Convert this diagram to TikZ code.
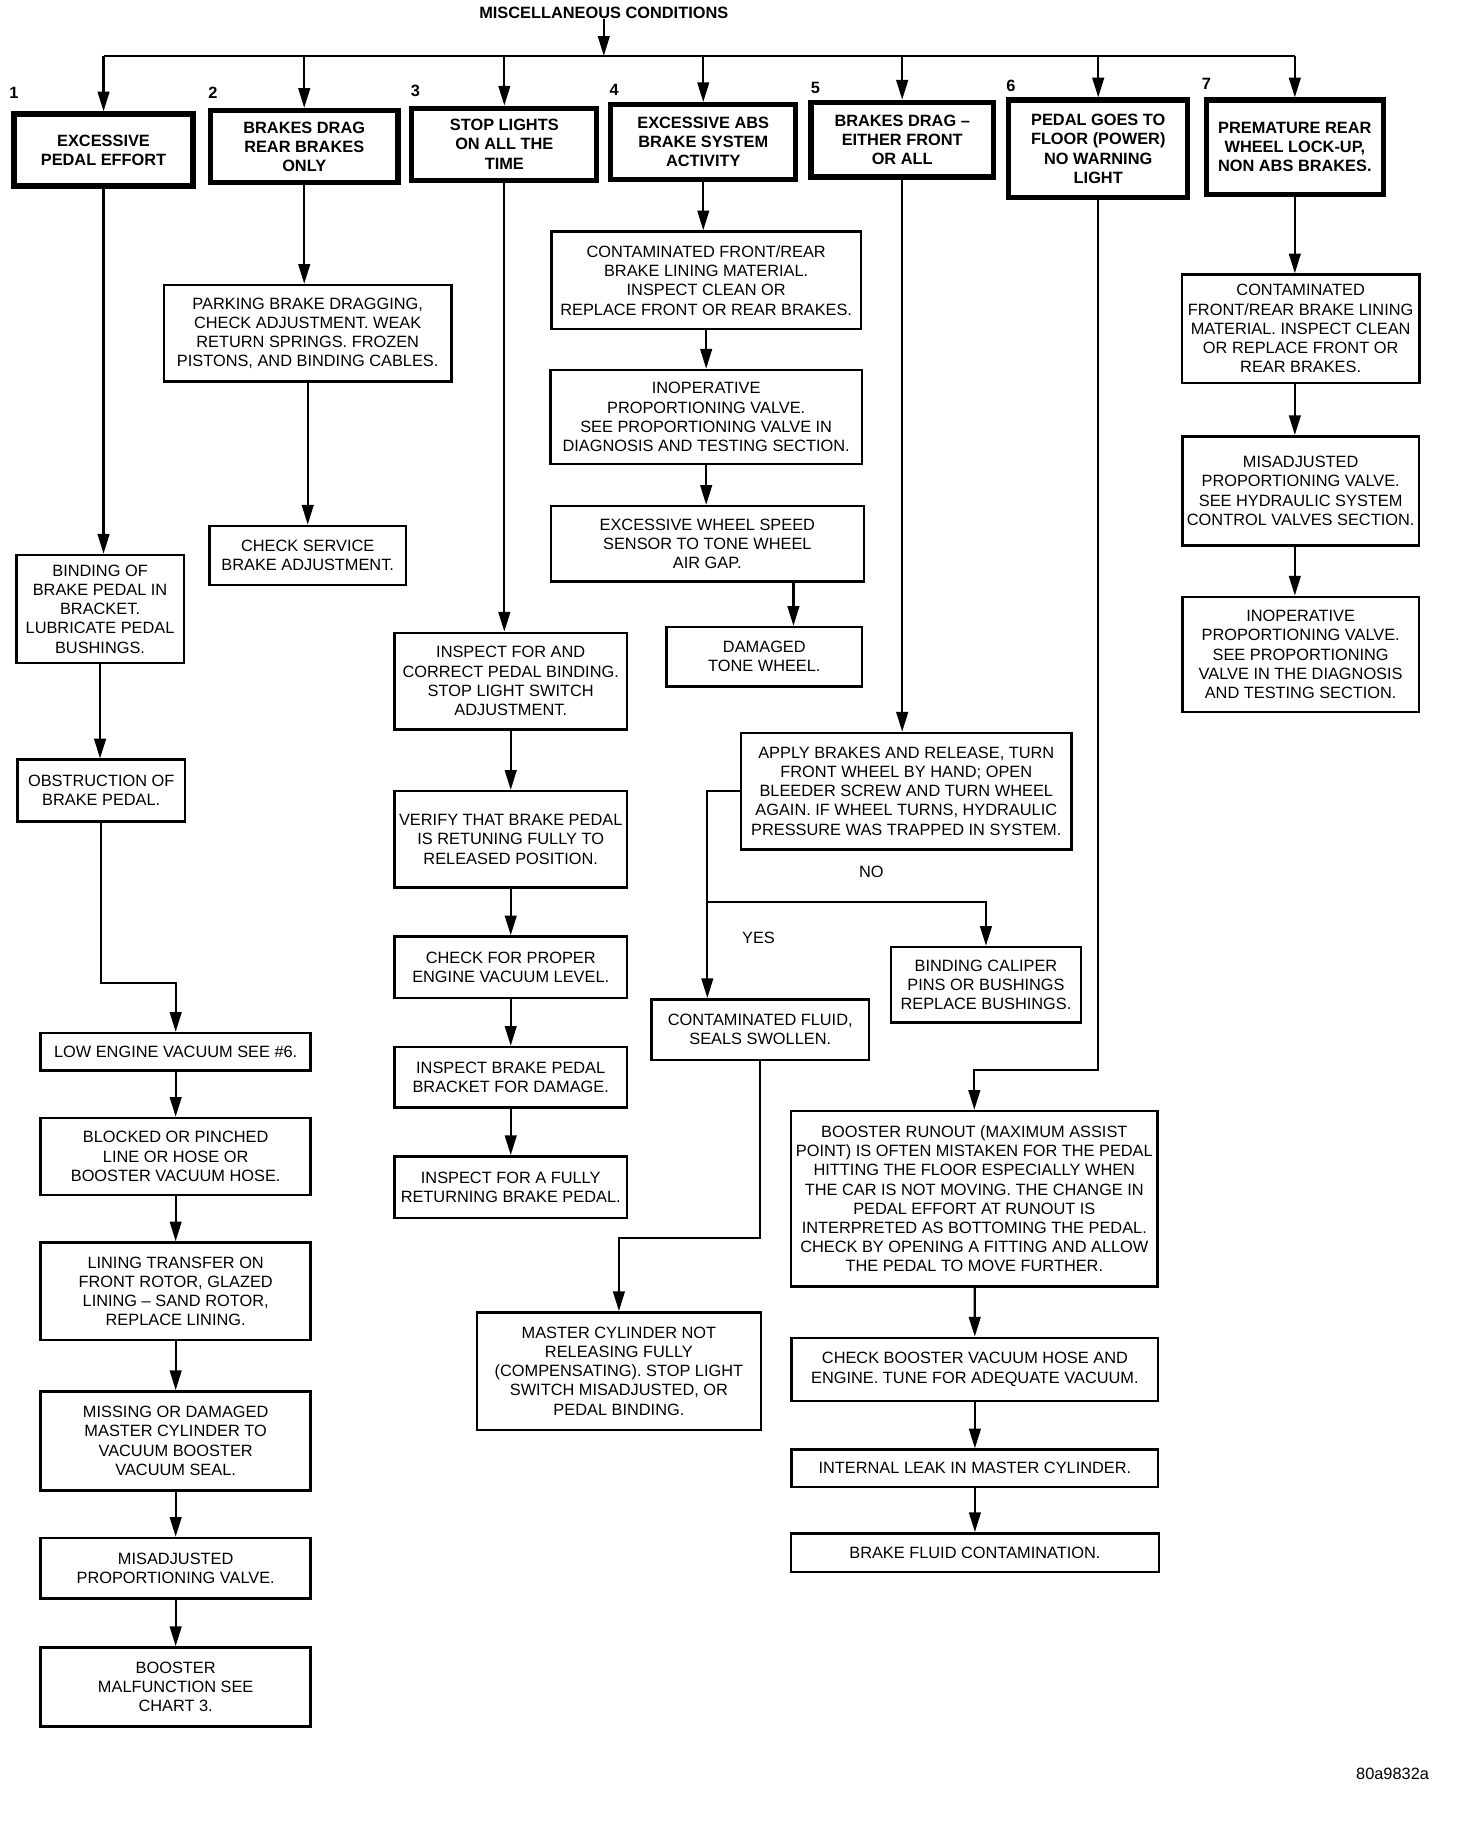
\documentclass[tikz,border=0pt]{standalone}
\usepackage{fontspec}
\setmainfont{Liberation Sans}
\usetikzlibrary{arrows.meta}

\tikzset{
  stepbox/.style={draw, line width=1.2pt, align=center, inner sep=1pt,
    font=\fontsize{8}{9.4}\selectfont},
  topbox/.style={stepbox, line width=2.6pt,
    font=\bfseries\fontsize{8}{9.4}\selectfont},
  wh/.style 2 args={minimum width=#1*0.2mm, minimum height=#2*0.2mm},
  arr/.style={line width=1.1pt, -{Triangle[length=3.4mm,width=2mm]}},
  lbl/.style={font=\fontsize{8}{9.4}\selectfont, inner sep=0pt},
  numlbl/.style={lbl, font=\bfseries\fontsize{8}{9.4}\selectfont},
}

\begin{document}
\begin{tikzpicture}[x=0.2mm, y=-0.2mm]
  \fill[white] (0,0) rectangle (1265,1573);

  % heading and the seven conditions
  \node[numlbl] (title) at (519,11) {MISCELLANEOUS CONDITIONS};
  \coordinate (bus) at (519,48);
  \foreach \k/\x/\y in {1/12/80, 2/183/80, 3/357/78, 4/528/77, 5/701/76, 6/869/74, 7/1037/72}
    \node[numlbl] (num\k) at (\x,\y) {\k};

  \node[topbox, wh={154}{62}] (effort) at (89,129) {EXCESSIVE\\PEDAL EFFORT};
  \node[topbox, wh={161}{62}] (dragrear) at (261.5,126) {BRAKES DRAG\\REAR BRAKES\\ONLY};
  \node[topbox, wh={159}{62}] (stoplights) at (433.5,124) {STOP LIGHTS\\ON ALL THE\\TIME};
  \node[topbox, wh={159}{64}] (absact) at (604.5,122) {EXCESSIVE ABS\\BRAKE SYSTEM\\ACTIVITY};
  \node[topbox, wh={157}{64}] (dragfront) at (775.5,120) {BRAKES DRAG –\\EITHER FRONT\\OR ALL};
  \node[topbox, wh={154}{84}] (floor) at (944,128) {PEDAL GOES TO\\FLOOR (POWER)\\NO WARNING\\LIGHT};
  \node[topbox, wh={152}{81}] (lockup) at (1113,126.5) {PREMATURE REAR\\WHEEL LOCK-UP,\\NON ABS BRAKES.};

  % column 1
  \node[stepbox, wh={144}{93}] (binding) at (86,523.5) {BINDING OF\\BRAKE PEDAL IN\\BRACKET.\\LUBRICATE PEDAL\\BUSHINGS.};
  \node[stepbox, wh={144}{53}] (obstruct) at (87,679.5) {OBSTRUCTION OF\\BRAKE PEDAL.};
  \node[stepbox, wh={232}{32}] (lowvac) at (151,904) {LOW ENGINE VACUUM SEE \#6.};
  \node[stepbox, wh={232}{66}] (blocked) at (151,994) {BLOCKED OR PINCHED\\LINE OR HOSE OR\\BOOSTER VACUUM HOSE.};
  \node[stepbox, wh={232}{84}] (lining) at (151,1110) {LINING TRANSFER ON\\FRONT ROTOR, GLAZED\\LINING – SAND ROTOR,\\REPLACE LINING.};
  \node[stepbox, wh={232}{85}] (missing) at (151,1238.5) {MISSING OR DAMAGED\\MASTER CYLINDER TO\\VACUUM BOOSTER\\VACUUM SEAL.};
  \node[stepbox, wh={232}{52}] (misadj) at (151,1348) {MISADJUSTED\\PROPORTIONING VALVE.};
  \node[stepbox, wh={232}{68}] (malfunc) at (151,1450) {BOOSTER\\MALFUNCTION SEE\\CHART 3.};

  % column 2
  \node[stepbox, wh={247}{83}] (parking) at (264.5,286.5) {PARKING BRAKE DRAGGING,\\CHECK ADJUSTMENT. WEAK\\RETURN SPRINGS. FROZEN\\PISTONS, AND BINDING CABLES.};
  \node[stepbox, wh={169}{51}] (checkserv) at (264.5,477.5) {CHECK SERVICE\\BRAKE ADJUSTMENT.};

  % column 3
  \node[stepbox, wh={200}{83}] (inspectfor) at (439,585.5) {INSPECT FOR AND\\CORRECT PEDAL BINDING.\\STOP LIGHT SWITCH\\ADJUSTMENT.};
  \node[stepbox, wh={200}{83}] (verify) at (439,721.5) {VERIFY THAT BRAKE PEDAL\\IS RETUNING FULLY TO\\RELEASED POSITION.};
  \node[stepbox, wh={200}{53}] (checkvac) at (439,831.5) {CHECK FOR PROPER\\ENGINE VACUUM LEVEL.};
  \node[stepbox, wh={200}{52}] (bracket) at (439,926) {INSPECT BRAKE PEDAL\\BRACKET FOR DAMAGE.};
  \node[stepbox, wh={200}{53}] (fullyret) at (439,1020.5) {INSPECT FOR A FULLY\\RETURNING BRAKE PEDAL.};

  % column 4
  \node[stepbox, wh={266}{84}] (cfr) at (607,241) {CONTAMINATED FRONT/REAR\\BRAKE LINING MATERIAL.\\INSPECT CLEAN OR\\REPLACE FRONT OR REAR BRAKES.};
  \node[stepbox, wh={268}{81}] (inoppv) at (607,358.5) {INOPERATIVE\\PROPORTIONING VALVE.\\SEE PROPORTIONING VALVE IN\\DIAGNOSIS AND TESTING SECTION.};
  \node[stepbox, wh={269}{65}] (wheelgap) at (608,467.5) {EXCESSIVE WHEEL SPEED\\SENSOR TO TONE WHEEL\\AIR GAP.};
  \node[stepbox, wh={168}{51}] (damaged) at (657,564.5) {DAMAGED\\TONE WHEEL.};

  % column 5
  \node[stepbox, wh={284}{100}] (apply) at (779,680) {APPLY BRAKES AND RELEASE, TURN\\FRONT WHEEL BY HAND; OPEN\\BLEEDER SCREW AND TURN WHEEL\\AGAIN. IF WHEEL TURNS, HYDRAULIC\\PRESSURE WAS TRAPPED IN SYSTEM.};
  \node[stepbox, wh={187}{52}] (cfluid) at (653.5,885) {CONTAMINATED FLUID,\\SEALS SWOLLEN.};
  \node[stepbox, wh={163}{65}] (caliper) at (847.5,846.5) {BINDING CALIPER\\PINS OR BUSHINGS\\REPLACE BUSHINGS.};
  \node[stepbox, wh={244}{101}] (master) at (532,1178.5) {MASTER CYLINDER NOT\\RELEASING FULLY\\(COMPENSATING). STOP LIGHT\\SWITCH MISADJUSTED, OR\\PEDAL BINDING.};
  \node[lbl] (nolbl) at (749,749) {NO};
  \node[lbl] (yeslbl) at (652,806) {YES};

  % column 6
  \node[stepbox, wh={315}{151}] (runout) at (837.5,1030.5) {BOOSTER RUNOUT (MAXIMUM ASSIST\\POINT) IS OFTEN MISTAKEN FOR THE PEDAL\\HITTING THE FLOOR ESPECIALLY WHEN\\THE CAR IS NOT MOVING. THE CHANGE IN\\PEDAL EFFORT AT RUNOUT IS\\INTERPRETED AS BOTTOMING THE PEDAL.\\CHECK BY OPENING A FITTING AND ALLOW\\THE PEDAL TO MOVE FURTHER.};
  \node[stepbox, wh={315}{54}] (boostvac) at (838,1177) {CHECK BOOSTER VACUUM HOSE AND\\ENGINE. TUNE FOR ADEQUATE VACUUM.};
  \node[stepbox, wh={315}{32}] (leak) at (838,1262) {INTERNAL LEAK IN MASTER CYLINDER.};
  \node[stepbox, wh={316}{33}] (fluidcont) at (838,1334.5) {BRAKE FLUID CONTAMINATION.};

  % column 7
  \node[stepbox, wh={204}{93}] (cfr7) at (1118,282.5) {CONTAMINATED\\FRONT/REAR BRAKE LINING\\MATERIAL. INSPECT CLEAN\\OR REPLACE FRONT OR\\REAR BRAKES.};
  \node[stepbox, wh={203}{94}] (misadj7) at (1118,422) {MISADJUSTED\\PROPORTIONING VALVE.\\SEE HYDRAULIC SYSTEM\\CONTROL VALVES SECTION.};
  \node[stepbox, wh={203}{99}] (inop7) at (1118,562.5) {INOPERATIVE\\PROPORTIONING VALVE.\\SEE PROPORTIONING\\VALVE IN THE DIAGNOSIS\\AND TESTING SECTION.};

  \node[lbl] (chartid) at (1197,1525) {80a9832a};

  % connectors
  \draw[arr] (title) -- (bus);
  \draw[line width=1.1pt] (effort.north |- bus) -- (lockup.north |- bus);
  \foreach \n in {effort,dragrear,stoplights,absact,dragfront,floor,lockup}
    \draw[arr] (\n.north |- bus) -- (\n.north);

  \draw[arr] (effort.south) -- (effort.south |- binding.north);
  \draw[arr] (binding.south) -- (binding.south |- obstruct.north);
  \coordinate (lowturn) at (120,845);
  \draw[arr] (obstruct) |- (lowturn) -| (lowvac);
  \draw[arr] (lowvac) -- (blocked);
  \draw[arr] (blocked) -- (lining);
  \draw[arr] (lining) -- (missing);
  \draw[arr] (missing) -- (misadj);
  \draw[arr] (misadj) -- (malfunc);

  \draw[arr] (dragrear.south) -- (dragrear.south |- parking.north);
  \draw[arr] (parking) -- (checkserv);

  \draw[arr] (stoplights.south) -- (stoplights.south |- inspectfor.north);
  \draw[arr] (inspectfor) -- (verify);
  \draw[arr] (verify) -- (checkvac);
  \draw[arr] (checkvac) -- (bracket);
  \draw[arr] (bracket) -- (fullyret);

  \draw[arr] (absact.south) -- (absact.south |- cfr.north);
  \draw[arr] (cfr) -- (inoppv);
  \draw[arr] (inoppv.south) -- (inoppv.south |- wheelgap.north);
  \coordinate (gapx) at (682,0);
  \draw[arr] (wheelgap.south -| gapx) -- (damaged.north -| gapx);

  \draw[arr] (dragfront.south) -- (dragfront.south |- apply.north);
  \coordinate (yesturn) at (608,680);
  \coordinate (nosplit) at (608,775);
  \draw[arr] (apply.west) -- (yesturn) -- (yesturn |- cfluid.north);
  \draw[arr] (nosplit) -| (caliper);
  \coordinate (mturn) at (600,1064);
  \draw[arr] (cfluid) |- (mturn) -| (master);

  \coordinate (fturn) at (900,920);
  \draw[arr] (floor) |- (fturn) -| (runout);
  \draw[arr] (runout) -- (boostvac);
  \draw[arr] (boostvac) -- (leak);
  \draw[arr] (leak) -- (fluidcont);

  \draw[arr] (lockup.south) -- (lockup.south |- cfr7.north);
  \draw[arr] (cfr7.south -| lockup) -- (misadj7.north -| lockup);
  \draw[arr] (misadj7.south -| lockup) -- (inop7.north -| lockup);
\end{tikzpicture}
\end{document}
